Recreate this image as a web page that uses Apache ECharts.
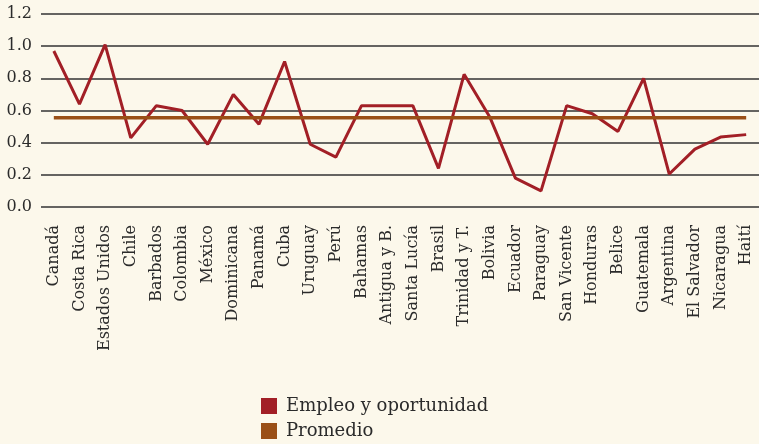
<!DOCTYPE html>
<html>
<head>
<meta charset="utf-8">
<script src="https://cdn.jsdelivr.net/npm/echarts@6/dist/echarts.min.js"></script>
<style>
  html, body { margin: 0; padding: 0; background: #fcf8eb; }
  #chart { width: 759px; height: 444px; }
</style>
</head>
<body>
<div id="chart"></div>
<script>
// Countries along the x axis
const countries = [
    'Canadá', 'Costa Rica', 'Estados Unidos', 'Chile', 'Barbados', 'Colombia', 'México',
    'Dominicana', 'Panamá', 'Cuba', 'Uruguay', 'Perú', 'Bahamas', 'Antigua y B.',
    'Santa Lucía', 'Brasil', 'Trinidad y T.', 'Bolivia', 'Ecuador', 'Paraguay',
    'San Vicente', 'Honduras', 'Belice', 'Guatemala', 'Argentina', 'El Salvador',
    'Nicaragua', 'Haití'
];

// Empleo y oportunidad
const empleo = [
    0.97, 0.64, 1.01, 0.43, 0.63, 0.60, 0.39,
    0.70, 0.515, 0.905, 0.39, 0.31, 0.63, 0.63,
    0.63, 0.24, 0.825, 0.56, 0.18, 0.10,
    0.63, 0.58, 0.47, 0.80, 0.205, 0.36,
    0.435, 0.45
];

// Promedio - flat line
const promedioValue = 0.555;
const promedio = countries.map(() => promedioValue);

const fontFamily = '"DejaVu Serif", serif';
const textColor = '#2b2b2b';

function legendItem(name, top) {
    return {
        left: 256,
        top: top,
        itemWidth: 16,
        itemHeight: 16,
        icon: 'rect',
        textStyle: { fontFamily: fontFamily, fontSize: 18, color: textColor, padding: [0, 0, 0, 4] },
        data: [name]
    };
}

const chart = echarts.init(document.getElementById('chart'));

chart.setOption({
    backgroundColor: '#fcf8eb',
    animation: false,
    textStyle: { fontFamily: fontFamily },
    grid: {
        left: 41,
        right: 0,
        top: 14,
        bottom: 237
    },
    legend: [
        legendItem('Empleo y oportunidad', 392),
        legendItem('Promedio', 417)
    ],
    xAxis: {
        type: 'category',
        data: countries,
        boundaryGap: true,
        axisLine: { show: false },
        axisTick: { show: false },
        axisLabel: {
            rotate: 90,
            interval: 0,
            margin: 18,
            fontFamily: fontFamily,
            fontSize: 16,
            color: textColor
        }
    },
    yAxis: {
        type: 'value',
        min: 0,
        max: 1.2,
        interval: 0.2,
        axisLine: { show: false },
        axisTick: { show: false },
        axisLabel: {
            margin: 9,
            fontFamily: fontFamily,
            fontSize: 16,
            color: textColor,
            formatter: v => v.toFixed(1)
        },
        splitLine: { lineStyle: { color: '#333333', width: 1.5 } }
    },
    series: [
        {
            name: 'Empleo y oportunidad',
            type: 'line',
            data: empleo,
            symbol: 'none',
            itemStyle: { color: '#a21f26' },
            lineStyle: { color: '#a21f26', width: 3 }
        },
        {
            name: 'Promedio',
            type: 'line',
            data: promedio,
            symbol: 'none',
            itemStyle: { color: '#9a4f16' },
            lineStyle: { color: '#9a4f16', width: 3.5 }
        }
    ]
});
</script>
</body>
</html>
